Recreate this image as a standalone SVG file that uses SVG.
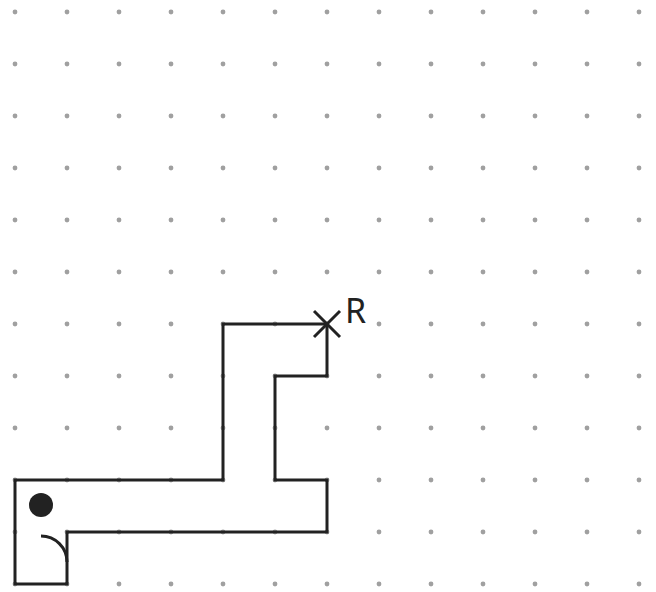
<svg xmlns="http://www.w3.org/2000/svg" width="656" height="592" viewBox="0 0 656 592">
<defs>
<pattern id="dots" x="15" y="12" width="52" height="52" patternUnits="userSpaceOnUse">
<circle cx="0" cy="0" r="2.4" fill="#a0a0a0"/>
<circle cx="52" cy="0" r="2.4" fill="#a0a0a0"/>
<circle cx="0" cy="52" r="2.4" fill="#a0a0a0"/>
<circle cx="52" cy="52" r="2.4" fill="#a0a0a0"/>
</pattern>
</defs>
<style>
.wall{fill:none;stroke:#222;stroke-width:3;stroke-linejoin:miter}
.lbl{font-family:"Noto Sans","DejaVu Sans",sans-serif;font-size:34px;fill:#222}
</style>
<rect width="656" height="592" fill="#fff"/>
<rect x="0" y="0" width="656" height="592" fill="url(#dots)"/>
<g id="path">
<polygon class="wall" points="15,480 223,480 223,324 327,324 327,376 275,376 275,480 327,480 327,532 67,532 67,584 15,584"/>
</g>
<g id="ball">
<circle cx="41" cy="505" r="12" fill="#222"/>
</g>
<g id="door">
<path class="wall" d="M41,536 A26,26 0 0 1 67,562"/>
</g>
<g id="target">
<line class="wall" x1="314" y1="311" x2="340" y2="337"/>
<line class="wall" x1="340" y1="311" x2="314" y2="337"/>
<text class="lbl" x="345" y="323">R</text>
</g>
</svg>
